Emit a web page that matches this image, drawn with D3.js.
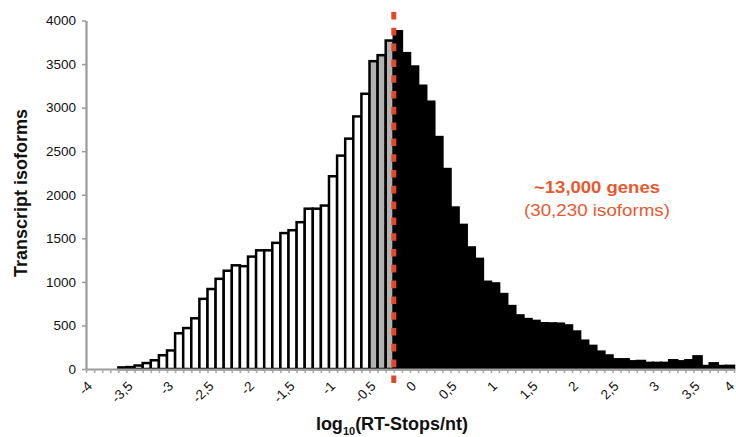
<!DOCTYPE html>
<html>
<head>
<meta charset="utf-8">
<script src="https://cdn.jsdelivr.net/npm/d3@7"></script>
<style>
  body { margin: 0; background: #fff; }
  text { font-family: "Liberation Sans", Arial, Helvetica, sans-serif; }
</style>
</head>
<body>
<svg id="chart" width="736" height="437"></svg>
<script>
// lower edge of each 0.1-wide bin, log10(RT-Stops/nt)
const binStart = [
  -4.0, -3.9, -3.8, -3.7, -3.6, -3.5, -3.4, -3.3, -3.2, -3.1,
  -3.0, -2.9, -2.8, -2.7, -2.6, -2.5, -2.4, -2.3, -2.2, -2.1,
  -2.0, -1.9, -1.8, -1.7, -1.6, -1.5, -1.4, -1.3, -1.2, -1.1,
  -1.0, -0.9, -0.8, -0.7, -0.6, -0.5, -0.4, -0.3, -0.2, -0.1,
  0.0, 0.1, 0.2, 0.3, 0.4, 0.5, 0.6, 0.7, 0.8, 0.9,
  1.0, 1.1, 1.2, 1.3, 1.4, 1.5, 1.6, 1.7, 1.8, 1.9,
  2.0, 2.1, 2.2, 2.3, 2.4, 2.5, 2.6, 2.7, 2.8, 2.9,
  3.0, 3.1, 3.2, 3.3, 3.4, 3.5, 3.6, 3.7, 3.8, 3.9
]
// transcript isoforms per bin
const isoforms = [
  0, 0, 0, 0, 18, 22, 40, 68, 100, 158,
  213, 410, 470, 582, 805, 918, 1035, 1128, 1190, 1180,
  1290, 1362, 1362, 1448, 1560, 1593, 1685, 1840, 1840, 1876,
  2212, 2449, 2644, 2899, 3159, 3533, 3602, 3770, 3877, 3625,
  3472, 3251, 3068, 2662, 2295, 1853, 1654, 1395, 1264, 1001,
  982, 860, 722, 615, 573, 552, 525, 523, 520, 500,
  430, 325, 265, 199, 155, 111, 111, 88, 92, 70,
  70, 70, 100, 88, 100, 145, 34, 65, 34, 36
]
const grayBins = [-0.5, -0.4, -0.3]
const cutoff = -0.2
const yTicks = [0, 500, 1000, 1500, 2000, 2500, 3000, 3500, 4000]
const xTicks = [-4, -3.5, -3, -2.5, -2, -1.5, -1, -0.5, 0, 0.5, 1, 1.5, 2, 2.5, 3, 3.5, 4]
const xTickLabels = ['-4', '-3,5', '-3', '-2,5', '-2', '-1,5', '-1', '-0,5', '0', '0,5', '1', '1,5', '2', '2,5', '3', '3,5', '4']

const svg = d3.select('#chart')
const x = d3.scaleLinear().domain([-4, 4]).range([86, 734])
const y = d3.scaleLinear().domain([0, 4000]).range([369, 20.5])
const axisGray = '#9a9a9a'
const orange = '#e8592f'

const bins = binStart.map((b, i) => ({ start: b, value: isoforms[i] }))
  .filter(d => d.value > 0)

const fillFor = d => {
  if (d.start >= cutoff - 1e-9) return '#000'
  if (grayBins.some(g => Math.abs(g - d.start) < 1e-9)) return '#b2b2b2'
  return '#fff'
}

svg.append('g')
  .selectAll('rect')
  .data(bins)
  .join('rect')
  .attr('x', d => x(d.start))
  .attr('width', d => x(d.start + 0.1) - x(d.start))
  .attr('y', d => y(d.value))
  .attr('height', d => y(0) - y(d.value))
  .attr('fill', fillFor)
  .attr('stroke', '#000')
  .attr('stroke-width', 2.5)

// y axis
const yAxis = svg.append('g')
  .attr('transform', `translate(${x(-4)},0)`)
  .call(d3.axisLeft(y).tickValues(yTicks).tickFormat(d3.format('d'))
    .tickSize(4).tickSizeOuter(0).tickPadding(6))
yAxis.select('.domain').attr('stroke', axisGray).attr('stroke-width', 2.2)
yAxis.selectAll('.tick line').attr('stroke', axisGray).attr('stroke-width', 1.5)
yAxis.selectAll('.tick text')
  .attr('fill', '#111')
  .style('font-size', '13.5px')

// x axis with a minor tick on every bin edge
const xAxis = svg.append('g')
  .attr('transform', `translate(0,${y(0)})`)
  .call(d3.axisBottom(x).tickValues(binStart.concat([4])).tickSize(4).tickSizeOuter(0).tickFormat(''))
xAxis.select('.domain').attr('stroke', axisGray).attr('stroke-width', 2.2)
xAxis.selectAll('.tick line').attr('stroke', '#a8a8a8').attr('stroke-width', 1.6)

svg.append('g')
  .selectAll('text')
  .data(xTicks)
  .join('text')
  .attr('transform', d => `translate(${Math.min(x(d) + 7, 735)},${y(0) + 18}) rotate(-45)`)
  .attr('text-anchor', 'end')
  .attr('fill', '#111')
  .style('font-size', '13.5px')
  .text((d, i) => xTickLabels[i])

// cutoff line
svg.append('line')
  .attr('x1', x(cutoff)).attr('x2', x(cutoff))
  .attr('y1', 12).attr('y2', 389)
  .attr('stroke', '#e0482a')
  .attr('stroke-width', 5)
  .attr('stroke-dasharray', '7.6,8.2')

// titles
svg.append('text')
  .attr('transform', 'translate(27,193) rotate(-90)')
  .attr('text-anchor', 'middle')
  .style('font-size', '18px')
  .style('font-weight', 'bold')
  .attr('fill', '#111')
  .text('Transcript isoforms')

const xTitle = svg.append('text')
  .attr('x', 392).attr('y', 430)
  .attr('text-anchor', 'middle')
  .style('font-size', '18px')
  .style('font-weight', 'bold')
  .attr('fill', '#111')
xTitle.append('tspan').text('log')
xTitle.append('tspan').attr('dy', 5).style('font-size', '11px').text('10')
xTitle.append('tspan').attr('dy', -5).text('(RT-Stops/nt)')

// annotation
svg.append('text')
  .attr('x', 597).attr('y', 193)
  .attr('text-anchor', 'middle')
  .attr('fill', orange)
  .style('font-size', '16.5px')
  .style('font-weight', 'bold')
  .attr('textLength', 126)
  .attr('lengthAdjust', 'spacingAndGlyphs')
  .text('~13,000 genes')
svg.append('text')
  .attr('x', 597).attr('y', 216)
  .attr('text-anchor', 'middle')
  .attr('fill', orange)
  .style('font-size', '16.5px')
  .attr('textLength', 146)
  .attr('lengthAdjust', 'spacingAndGlyphs')
  .text('(30,230 isoforms)')
</script>
</body>
</html>
